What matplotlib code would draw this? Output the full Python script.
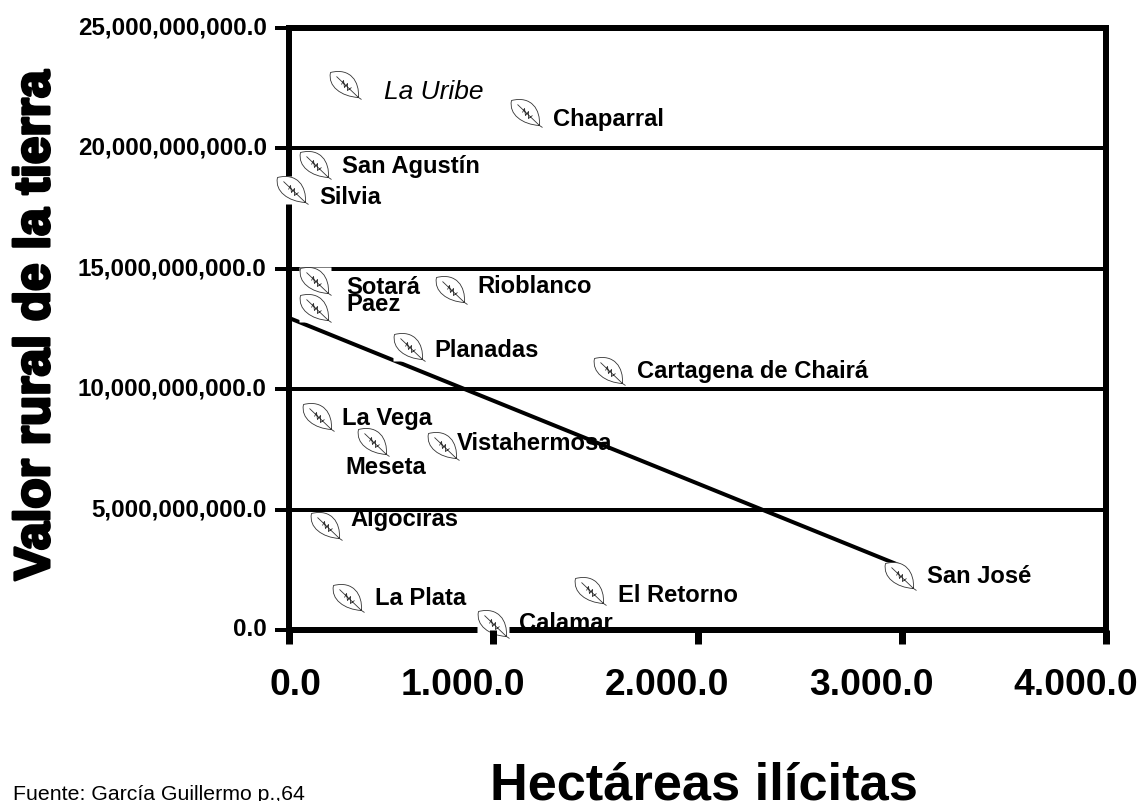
import matplotlib
matplotlib.use('Agg')
import matplotlib.pyplot as plt
import matplotlib.patheffects as pe
from matplotlib.path import Path
from matplotlib.transforms import ScaledTranslation

plt.rcParams['font.family'] = ['Liberation Sans', 'DejaVu Sans']

# Data
municipios = ['La Uribe', 'Chaparral', 'San Agustín', 'Silvia', 'Sotará', 'Rioblanco',
              'Paez', 'Planadas', 'Cartagena de Chairá', 'La Vega', 'Meseta',
              'Vistahermosa', 'Algociras', 'San José', 'El Retorno', 'La Plata', 'Calamar']
hectareas = [274, 1160, 127, 15, 127, 793, 127, 588, 1567, 142, 411, 754, 183, 2991, 1474, 289, 999]
valor = [22.63e9, 21.47e9, 19.31e9, 18.27e9, 14.49e9, 14.12e9, 13.37e9, 11.75e9, 10.76e9,
         8.85e9, 7.81e9, 7.64e9, 4.32e9, 2.24e9, 1.62e9, 1.33e9, 0.25e9]
tendencia_x = [0, 2991]
tendencia_y = [12.96e9, 2.68e9]

x_ticks = [0, 1000, 2000, 3000, 4000]
x_labels = ['0.0', '1.000.0', '2.000.0', '3.000.0', '4.000.0']
y_ticks = [0, 5e9, 10e9, 15e9, 20e9, 25e9]
y_labels = ['0.0', '5,000,000,000.0', '10,000,000,000.0', '15,000,000,000.0',
            '20,000,000,000.0', '25,000,000,000.0']
lineas_y = [5e9, 10e9, 15e9, 20e9]

# Label offsets from each leaf, in pixels
off_x = [39, 27, 27, 27, 31, 26, 31, 25, 28, 24, -28, 14, 24, 27, 28, 27, 26]
off_y = [-7, -6, -1, -7, -6, 3, 4, -3, -1, -2, -26, 3, 6, 0, -5, -1, 0]

PX = 72 / 100

fig = plt.figure(figsize=(11.42, 8.01), dpi=100)
ax = fig.add_axes([289 / 1142, 1 - 630 / 801, (1106 - 289) / 1142, (630 - 28) / 801])
ax.set_xlim(0, 4000)
ax.set_ylim(0, 25e9)

# Leaf marker and the white box behind it
C = Path.CURVE4
M = Path.MOVETO
L = Path.LINETO
leaf_v = [(13, -12), (14, 4), (5, 18), (-15, 13), (-18, -1), (-4, -11), (13, -12), (16, -14),
          (-9, 9), (13, -12),
          (-4, 1), (-2, 5), (-2, 5), (-1, -2), (-1, -2), (2, 2), (2, 2), (2, -5), (2, -5), (6, -2)]
leaf_c = [M, C, C, C, C, C, C, L,
          M, L,
          M, L, M, L, M, L, M, L, M, L]
leaf = Path(leaf_v, leaf_c)
caja = Path([(-16, -14), (16, -14), (16, 14), (-16, 14), (-16, -14)])

for y in lineas_y:
    ax.axhline(y, color='black', lw=4 * PX, zorder=2)
ax.plot(tendencia_x, tendencia_y, color='black', lw=4 * PX, zorder=3)

ax.plot(hectareas, valor, ls='none', marker=caja, ms=32 * PX, mfc='white', mec='none',
        zorder=4, clip_on=False)
ax.plot(hectareas, valor, ls='none', marker=leaf, ms=36 * PX, mfc='none', mec='#333333',
        mew=0.6, zorder=5, clip_on=False)

for i, nombre in enumerate(municipios):
    es_uribe = nombre == 'La Uribe'
    ax.annotate(nombre, (hectareas[i], valor[i]), xytext=(off_x[i] * PX, off_y[i] * PX),
                textcoords='offset points', va='center', ha='left',
                fontsize=19 if es_uribe else 17.1,
                fontweight='normal' if es_uribe else 'bold',
                fontstyle='italic' if es_uribe else 'normal', zorder=6,
                annotation_clip=False)

for s in ax.spines.values():
    s.set_linewidth(6 * PX)
    s.set_zorder(3.5)

ax.set_xticks(x_ticks)
ax.set_xticklabels(x_labels, fontsize=26.8, fontweight='bold')
ax.set_yticks(y_ticks)
ax.set_yticklabels(y_labels, fontsize=17.4, fontweight='bold')
ax.tick_params(axis='x', length=14 * PX, width=7 * PX, pad=17.5)
ax.tick_params(axis='y', length=14 * PX, width=4 * PX, pad=6)
ax.xaxis.set_zorder(6)
ax.yaxis.set_zorder(6)

# x labels end about 32 px right of their tick, y labels sit a bit above theirs
corrimiento = ScaledTranslation(32 / 100, 0, fig.dpi_scale_trans)
for lab in ax.get_xticklabels():
    lab.set_ha('right')
    lab.set_transform(lab.get_transform() + corrimiento)
subida = ScaledTranslation(0, 2.5 / 100, fig.dpi_scale_trans)
for lab in ax.get_yticklabels():
    lab.set_transform(lab.get_transform() + subida)

fig.text(36 / 1142, 1 - 325 / 801, 'Valor rural de la tierra', rotation=90, ha='center', va='center',
         fontsize=35.7, fontweight='bold', path_effects=[pe.withStroke(linewidth=2.2, foreground='black')])
fig.text(490 / 1142, 1 - 799 / 801, 'Hectáreas ilícitas', ha='left', va='baseline',
         fontsize=37.7, fontweight='bold')
fig.text(13 / 1142, 1 - 800 / 801, 'Fuente: García Guillermo p.,64', ha='left', va='baseline', fontsize=15.3)

fig.savefig('out.png', dpi=100)
